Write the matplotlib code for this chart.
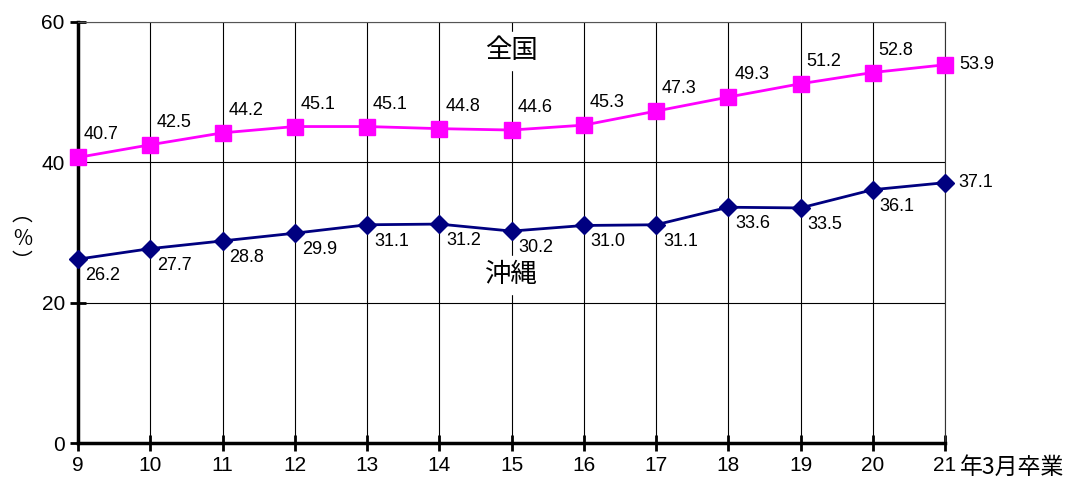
import matplotlib
matplotlib.use('Agg')
import matplotlib.pyplot as plt

plt.rcParams['font.family'] = ['Liberation Sans', 'Noto Sans CJK JP', 'DejaVu Sans']

# data
years = [9, 10, 11, 12, 13, 14, 15, 16, 17, 18, 19, 20, 21]
zenkoku = [40.7, 42.5, 44.2, 45.1, 45.1, 44.8, 44.6, 45.3, 47.3, 49.3, 51.2, 52.8, 53.9]
okinawa = [26.2, 27.7, 28.8, 29.9, 31.1, 31.2, 30.2, 31.0, 31.1, 33.6, 33.5, 36.1, 37.1]
yticks = [0, 20, 40, 60]

fig = plt.figure(figsize=(10.67, 4.82), dpi=100)
ax = fig.add_axes([0.0731, 0.0809, 0.8126, 0.8735])

ax.plot(years, zenkoku, color='#FF00FF', lw=2, marker='s', ms=11, zorder=3, clip_on=False)
ax.plot(years, okinawa, color='#000080', lw=2, marker='D', ms=9, zorder=3, clip_on=False)

# series names (white box hides the grid behind)
ax.text(15, 55.9, '全国', ha='center', va='center', fontsize=19, zorder=2,
        family=['Noto Sans CJK JP'], backgroundcolor='white')
ax.text(15, 24.0, '沖縄', ha='center', va='center', fontsize=19, zorder=2,
        family=['Noto Sans CJK JP'], backgroundcolor='white')

# point labels
for i, (x, v) in enumerate(zip(years, zenkoku)):
    if i == len(years) - 1:
        ax.annotate(f'{v:.1f}', (x, v), xytext=(14, 0), textcoords='offset pixels',
                    ha='left', va='center', fontsize=13)
    else:
        ax.annotate(f'{v:.1f}', (x, v), xytext=(6, 14), textcoords='offset pixels',
                    ha='left', va='bottom', fontsize=13)
for i, (x, v) in enumerate(zip(years, okinawa)):
    if i == len(years) - 1:
        ax.annotate(f'{v:.1f}', (x, v), xytext=(13, 0), textcoords='offset pixels',
                    ha='left', va='center', fontsize=13)
    else:
        ax.annotate(f'{v:.1f}', (x, v), xytext=(7, -8), textcoords='offset pixels',
                    ha='left', va='top', fontsize=13, zorder=4,
                    bbox=dict(facecolor='white', edgecolor='none', pad=0.5))

ax.set_xlim(9, 21)
ax.set_ylim(0, 60)
ax.set_xticks(years)
ax.set_yticks(yticks)
ax.tick_params(labelsize=15, direction='inout', length=12, width=2)
ax.grid(True, color='black', lw=0.8)
ax.set_axisbelow(True)

ax.spines['left'].set_linewidth(2.5)
ax.spines['bottom'].set_linewidth(2.5)
ax.spines['top'].set_color('#555555')
ax.spines['top'].set_linewidth(0.8)
ax.spines['right'].set_color('#333333')
ax.spines['right'].set_linewidth(0.8)

# y axis label, vertical style
fig.text(0.021, 0.505, '︵\n%\n︶', ha='center', va='center', fontsize=15,
         linespacing=1.1, family=['Noto Sans CJK JP', 'DejaVu Sans'])

# x axis unit
fig.text(0.900, 0.031, '年3月卒業', ha='left', va='center', fontsize=16.5,
         family=['Noto Sans CJK JP'])

fig.savefig('out.png', dpi=100)
